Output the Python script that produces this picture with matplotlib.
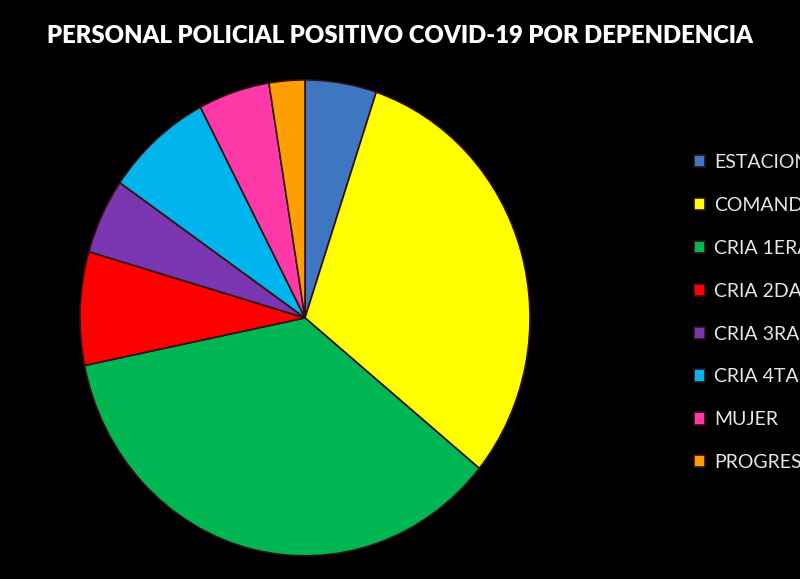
import matplotlib.pyplot as plt

# data (counts per dependency)
labels = ['ESTACION', 'COMANDO', 'CRIA 1ERA', 'CRIA 2DA', 'CRIA 3RA', 'CRIA 4TA', 'MUJER', 'PROGRESO']
values = [2, 12, 14, 3, 2, 3, 2, 1]
colors = ['#3f76c2', '#ffff00', '#00b652', '#ff0000', '#7a35b0', '#00b4ee', '#ff3aa8', '#ff9e00']

fig = plt.figure(figsize=(8, 5.79), dpi=100)
fig.patch.set_facecolor('black')

ax = fig.add_axes([0.1, 0.04, 0.5625, 0.822])
ax.set_facecolor('black')
wedges, _ = ax.pie(values, colors=colors, startangle=90, counterclock=False,
                   wedgeprops=dict(edgecolor='#301010', linewidth=1.2))
ax.set_aspect('auto')
ax.set_xlim(-1, 1)
ax.set_ylim(-1, 1)

fig.text(0.5, 0.937, 'PERSONAL POLICIAL POSITIVO COVID-19 POR DEPENDENCIA',
         color='white', fontsize=17.2, fontweight='heavy', family='Lato',
         ha='center', va='center')

# legend runs off the right edge as in the original screenshot
leg = fig.legend(wedges, labels, loc='upper left', bbox_to_anchor=(0.845, 0.764),
                 frameon=False, labelcolor='#e6e6e6',
                 handlelength=0.6, handleheight=0.6, handletextpad=0.45,
                 labelspacing=1.33, prop={'family': 'Lato', 'size': 14})

fig.savefig('out.png', dpi=100, facecolor='black')
